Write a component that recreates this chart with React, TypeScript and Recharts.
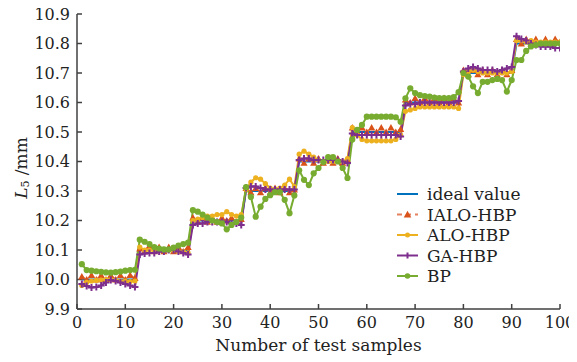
import React from 'react';
import { LineChart, Line, XAxis, YAxis, Label } from 'recharts';

const sampleNumbers = Array.from({ length: 100 }, (_, i) => i + 1);

const idealValue = [
  10.0, 10.0, 10.0, 10.0, 10.0, 10.0, 10.0, 10.0, 10.0, 10.0, 10.0, 10.0,
  10.1, 10.1, 10.1, 10.1, 10.1, 10.1, 10.1, 10.1, 10.1, 10.1, 10.1,
  10.2, 10.2, 10.2, 10.2, 10.2, 10.2, 10.2, 10.2, 10.2, 10.2, 10.2,
  10.3, 10.3, 10.3, 10.3, 10.3, 10.3, 10.3, 10.3, 10.3, 10.3, 10.3,
  10.4, 10.4, 10.4, 10.4, 10.4, 10.4, 10.4, 10.4, 10.4, 10.4, 10.4,
  10.5, 10.5, 10.5, 10.5, 10.5, 10.5, 10.5, 10.5, 10.5, 10.5, 10.5,
  10.6, 10.6, 10.6, 10.6, 10.6, 10.6, 10.6, 10.6, 10.6, 10.6, 10.6, 10.6,
  10.7, 10.7, 10.7, 10.7, 10.7, 10.7, 10.7, 10.7, 10.7, 10.7, 10.7,
  10.8, 10.8, 10.8, 10.8, 10.8, 10.8, 10.8, 10.8, 10.8, 10.8,
];

const ialoHbp = [
  10.01, 10.0, 10.015, 10.0, 10.015, 10.0, 10.015, 10.0, 10.015, 10.0, 10.015, 10.005,
  10.105, 10.095, 10.115, 10.095, 10.11, 10.095, 10.11, 10.095, 10.11, 10.095, 10.11,
  10.21, 10.195, 10.21, 10.195, 10.21, 10.195, 10.21, 10.2, 10.21, 10.195, 10.205,
  10.31, 10.295, 10.31, 10.295, 10.31, 10.295, 10.31, 10.295, 10.31, 10.295, 10.305,
  10.41, 10.395, 10.41, 10.395, 10.41, 10.395, 10.41, 10.395, 10.41, 10.395, 10.405,
  10.515, 10.5, 10.515, 10.5, 10.515, 10.5, 10.515, 10.5, 10.515, 10.5, 10.51,
  10.61, 10.6, 10.615, 10.6, 10.615, 10.6, 10.615, 10.6, 10.615, 10.6, 10.615, 10.6,
  10.71, 10.695, 10.71, 10.695, 10.71, 10.695, 10.71, 10.695, 10.71, 10.695, 10.71,
  10.815, 10.8, 10.815, 10.8, 10.815, 10.8, 10.815, 10.8, 10.815, 10.805,
];

const aloHbp = [
  9.98, 9.99, 9.995, 9.997, 9.998, 10.0, 10.0, 9.998, 9.995, 9.995, 9.993, 9.995,
  10.11, 10.1, 10.1, 10.1, 10.1, 10.1, 10.1, 10.1, 10.095, 10.095, 10.09,
  10.2, 10.205, 10.21, 10.215, 10.215, 10.22, 10.22, 10.23, 10.22, 10.215, 10.22,
  10.305, 10.33, 10.345, 10.34, 10.325, 10.31, 10.305, 10.31, 10.32, 10.34, 10.315,
  10.425, 10.435, 10.425, 10.415, 10.405, 10.4, 10.4, 10.4, 10.4, 10.4, 10.41,
  10.515, 10.49, 10.475, 10.47, 10.47, 10.47, 10.47, 10.47, 10.47, 10.475, 10.49,
  10.57, 10.575, 10.58, 10.585, 10.585, 10.585, 10.585, 10.585, 10.585, 10.585, 10.585, 10.58,
  10.695, 10.705, 10.71, 10.705, 10.7, 10.7, 10.7, 10.7, 10.7, 10.7, 10.705,
  10.81, 10.81, 10.805, 10.81, 10.805, 10.805, 10.805, 10.805, 10.805, 10.805,
];

const gaHbp = [
  9.985, 9.978, 9.973, 9.975, 9.98, 9.99, 9.998, 9.995, 9.99, 9.985, 9.98, 9.975,
  10.085, 10.088, 10.09, 10.09, 10.095, 10.095, 10.1, 10.1, 10.095, 10.09, 10.085,
  10.185, 10.19, 10.19, 10.195, 10.195, 10.195, 10.195, 10.195, 10.19, 10.19, 10.185,
  10.31, 10.315, 10.315, 10.31, 10.305, 10.305, 10.305, 10.305, 10.305, 10.305, 10.305,
  10.405, 10.41, 10.41, 10.405, 10.405, 10.405, 10.405, 10.405, 10.405, 10.4, 10.395,
  10.495, 10.49, 10.49, 10.49, 10.49, 10.49, 10.49, 10.49, 10.49, 10.49, 10.485,
  10.59, 10.595, 10.595, 10.6, 10.6, 10.6, 10.6, 10.6, 10.6, 10.6, 10.6, 10.605,
  10.705, 10.715, 10.72, 10.715, 10.71, 10.71, 10.71, 10.705, 10.71, 10.715, 10.72,
  10.825, 10.815, 10.81, 10.8, 10.795, 10.79, 10.79, 10.79, 10.785, 10.785,
];

const bp = [
  10.052, 10.032, 10.03, 10.028, 10.026, 10.024, 10.023, 10.025, 10.027, 10.03, 10.032, 10.033,
  10.135, 10.128, 10.12, 10.11, 10.105, 10.102, 10.102, 10.108, 10.115, 10.12, 10.125,
  10.235, 10.23, 10.22, 10.21, 10.2, 10.195, 10.19, 10.17, 10.185, 10.195, 10.21,
  10.313, 10.28, 10.213, 10.247, 10.273, 10.286, 10.296, 10.296, 10.27, 10.225, 10.285,
  10.37, 10.338, 10.32, 10.36, 10.378, 10.398, 10.415, 10.415, 10.4, 10.378, 10.344,
  10.475, 10.507, 10.524, 10.552, 10.552, 10.552, 10.552, 10.552, 10.552, 10.55, 10.535,
  10.614, 10.648, 10.632, 10.625, 10.622, 10.62, 10.617, 10.615, 10.615, 10.615, 10.618, 10.635,
  10.7, 10.688, 10.655, 10.632, 10.67, 10.67, 10.676, 10.68, 10.676, 10.637, 10.676,
  10.744, 10.744, 10.775, 10.79, 10.795, 10.8, 10.8, 10.8, 10.8, 10.8,
];

const xTicks = [0, 10, 20, 30, 40, 50, 60, 70, 80, 90, 100];
const yTicks = [9.9, 10.0, 10.1, 10.2, 10.3, 10.4, 10.5, 10.6, 10.7, 10.8, 10.9];

const seriesNames = ['ideal value', 'IALO-HBP', 'ALO-HBP', 'GA-HBP', 'BP'];

const data = sampleNumbers.map((s, i) => ({
  sample: s,
  ideal: idealValue[i],
  ialo: ialoHbp[i],
  alo: aloHbp[i],
  ga: gaHbp[i],
  bp: bp[i],
}));

const C_IDEAL = '#0072BD';
const C_IALO = '#D95319';
const C_IALO_LINE = '#E4825F';
const C_ALO = '#EDB120';
const C_GA = '#7E2F8E';
const C_BP = '#77AC30';
const FONT = 'DejaVu Serif';
const TXT = '#222';

const triShape = (cx: number, cy: number, s: number) =>
  `M${cx},${cy - s} L${cx + s},${cy + s * 0.8} L${cx - s},${cy + s * 0.8} Z`;

const triangleDot = (props: any) => {
  const { cx, cy, index } = props;
  if (cx == null || cy == null) return <g key={`t${index}`} />;
  return <path key={`t${index}`} d={triShape(cx, cy, 3.6)} fill={C_IALO} />;
};

const smallCircleDot = (props: any) => {
  const { cx, cy, index } = props;
  if (cx == null || cy == null) return <g key={`a${index}`} />;
  return <circle key={`a${index}`} cx={cx} cy={cy} r={2.6} fill={C_ALO} />;
};

const plusDot = (props: any) => {
  const { cx, cy, index } = props;
  if (cx == null || cy == null) return <g key={`g${index}`} />;
  const s = 3.5;
  return (
    <path
      key={`g${index}`}
      d={`M${cx - s},${cy} L${cx + s},${cy} M${cx},${cy - s} L${cx},${cy + s}`}
      stroke={C_GA}
      strokeWidth={2}
      fill="none"
    />
  );
};

const bigCircleDot = (props: any) => {
  const { cx, cy, index } = props;
  if (cx == null || cy == null) return <g key={`b${index}`} />;
  return <circle key={`b${index}`} cx={cx} cy={cy} r={3.1} fill={C_BP} />;
};

function LegendBox() {
  const rowH = 20.5;
  const x0 = 3;
  const x1 = 24;
  const mid = (x0 + x1) / 2;
  const tx = 33;
  return (
    <svg width={170} height={110} style={{ position: 'absolute', left: 394, top: 184, overflow: 'visible' }}>
      {seriesNames.map((name, i) => {
        const y = 10 + i * rowH;
        let icon: any = null;
        if (i === 0) icon = <line x1={x0} x2={x1} y1={y} y2={y} stroke={C_IDEAL} strokeWidth={2} />;
        if (i === 1)
          icon = (
            <g>
              <line x1={x0} x2={x1} y1={y} y2={y} stroke={C_IALO_LINE} strokeWidth={2} strokeDasharray="5 4" />
              <path d={triShape(mid, y, 3.8)} fill={C_IALO} />
            </g>
          );
        if (i === 2)
          icon = (
            <g>
              <line x1={x0} x2={x1} y1={y} y2={y} stroke={C_ALO} strokeWidth={2} />
              <circle cx={mid} cy={y} r={2.5} fill={C_ALO} />
            </g>
          );
        if (i === 3)
          icon = (
            <g>
              <line x1={x0} x2={x1} y1={y} y2={y} stroke={C_GA} strokeWidth={2} />
              <path d={`M${mid},${y - 3} L${mid},${y + 3}`} stroke={C_GA} strokeWidth={2} />
            </g>
          );
        if (i === 4)
          icon = (
            <g>
              <line x1={x0} x2={x1} y1={y} y2={y} stroke={C_BP} strokeWidth={2} />
              <circle cx={mid} cy={y} r={2.8} fill={C_BP} />
            </g>
          );
        return (
          <g key={name}>
            {icon}
            <text x={tx} y={y} dy="0.36em" fontSize={17} fontFamily={FONT} fill={TXT}>
              {name}
            </text>
          </g>
        );
      })}
    </svg>
  );
}

export default function App() {
  return (
    <div style={{ width: 577, height: 362, position: 'relative', margin: '-8px 0 0 -8px' }}>
      <LineChart
        width={577}
        height={362}
        data={data}
        margin={{ top: 14, right: 17, bottom: 0, left: 0 }}
        style={{ fontFamily: FONT }}
      >
        <XAxis
          dataKey="sample"
          type="number"
          domain={[0, 100]}
          ticks={xTicks}
          interval={0}
          height={53}
          tickSize={-5}
          tickMargin={13}
          stroke="#404040"
          strokeWidth={1.5}
          tick={{ fill: TXT, fontSize: 16, fontFamily: FONT }}
          allowDataOverflow
        >
          <Label
            content={() => (
              <text x={318.5} y={351} textAnchor="middle" fontSize={17} fontFamily={FONT} fill={TXT}>
                Number of test samples
              </text>
            )}
          />
        </XAxis>
        <YAxis
          type="number"
          domain={[9.9, 10.9]}
          ticks={yTicks}
          interval={0}
          width={77}
          tickSize={-5}
          tickMargin={12}
          stroke="#404040"
          strokeWidth={1.5}
          tickFormatter={(v: number) => v.toFixed(1)}
          tick={{ fill: TXT, fontSize: 16, fontFamily: FONT }}
          allowDataOverflow
        >
          <Label
            content={() => (
              <text
                x={21}
                y={168}
                transform="rotate(-90 21 168)"
                textAnchor="middle"
                dominantBaseline="central"
                fontSize={17}
                fontFamily={FONT}
                fill={TXT}
              >
                <tspan fontStyle="italic">L</tspan>
                <tspan fontSize={11} dy={4}>5</tspan>
                <tspan dy={-4}> /mm</tspan>
              </text>
            )}
          />
        </YAxis>
        <Line dataKey="ideal" stroke={C_IDEAL} strokeWidth={2} dot={false} isAnimationActive={false} />
        <Line
          dataKey="ialo"
          stroke={C_IALO_LINE}
          strokeWidth={1.6}
          strokeDasharray="4 2"
          dot={triangleDot}
          isAnimationActive={false}
        />
        <Line dataKey="alo" stroke={C_ALO} strokeWidth={2} dot={smallCircleDot} isAnimationActive={false} />
        <Line dataKey="ga" stroke={C_GA} strokeWidth={2} dot={plusDot} isAnimationActive={false} />
        <Line dataKey="bp" stroke={C_BP} strokeWidth={2} dot={bigCircleDot} isAnimationActive={false} />
      </LineChart>
      <LegendBox />
    </div>
  );
}
